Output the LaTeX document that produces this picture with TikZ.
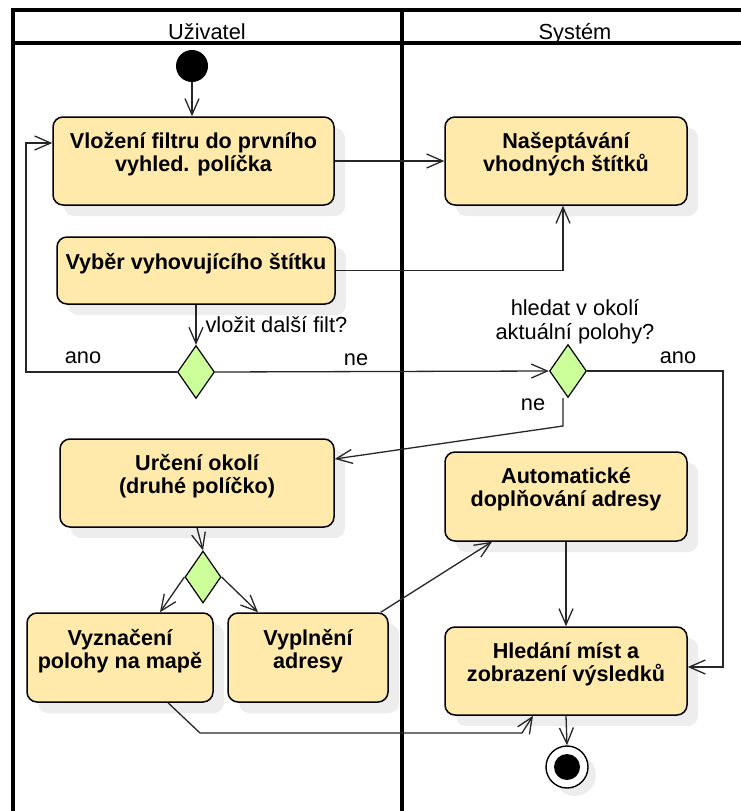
\documentclass[tikz,border=0pt]{standalone}
\usepackage{fontspec}
\setmainfont{Liberation Sans}
\usetikzlibrary{arrows.meta,shapes.geometric,shadows}
\definecolor{actfill}{RGB}{255,234,171}
\definecolor{decfill}{RGB}{204,255,153}
\begin{document}
\begin{tikzpicture}[x=1pt,y=-1pt,
  lane/.style={line width=3.2pt},
  act/.style={draw,line width=1.5pt,rounded corners=10pt,fill=actfill,align=center,
    font=\fontsize{21.6}{23}\selectfont\bfseries,text depth=18pt,
    drop shadow={shadow xshift=11pt,shadow yshift=-11pt,fill=black!7,opacity=1}},
  dec/.style={diamond,draw,line width=1.2pt,fill=decfill,inner sep=0pt,
    minimum width=37pt,minimum height=53pt},
  flow/.style={draw=black!85,line width=1.3pt,-{Straight Barb[length=16pt,width=14pt,line width=1.3pt]}},
  txt/.style={font=\fontsize{21.8}{24}\selectfont,anchor=base,align=center}]
  \useasboundingbox (0,0) rectangle (741,811);
  % swimlanes
  \draw[lane] (13,811) -- (13,10) -- (741,10);
  \draw[lane] (13,43) -- (741,43);
  \draw[lane] (402,10) -- (402,811);
  \node[txt] (uziv) at (207,39) {Uživatel};
  \node[txt] (sys) at (575,39) {Systém};
  % activities
  \foreach \n/\x/\y/\w/\h/\t in
    {vlozeni/193.5/161/281/88/{Vložení filtru do prvního\\vyhled. políčka},
     vyber/196/270.5/278/67/{Vyběr vyhovujícího štítku},
     nasept/566/161/242/88/{Našeptávání\\vhodných štítků},
     urceni/197/483/274/88/{Určení okolí\\(druhé políčko)},
     auto/566/496.5/242/89/{Automatické\\doplňování adresy},
     vyznaceni/120/657.5/186/89/{Vyznačení\\polohy na mapě},
     vyplneni/308/657.5/160/89/{Vyplnění\\adresy},
     hledani/566/671/242/88/{Hledání míst a\\zobrazení výsledků}}
    \node[act,minimum width=\w pt,minimum height=\h pt] (\n) at (\x,\y) {\t};
  \node[dec] (d1) at (196,372) {};
  \node[dec] (d2) at (568,371) {};
  \node[dec,minimum width=36pt,minimum height=52pt] (d3) at (203,577) {};
  \node[circle,fill=black,minimum size=32pt,inner sep=0pt] (start) at (192,66) {};
  \node[circle,draw,line width=1.4pt,fill=white,minimum size=42pt,inner sep=0pt,
    drop shadow={shadow xshift=8pt,shadow yshift=-8pt,fill=black!7,opacity=1}] (end) at (567,767) {};
  \fill (end.center) circle (13pt);
  % guards
  \node[txt,anchor=base west] (qfilt) at (202,332) {vložit další filt?};
  \node[txt] (ano1) at (83,363) {ano};
  \node[txt] (ne1) at (356,365) {ne};
  \node[txt,anchor=center] (qpoloha) at (575,322) {hledat v okolí\\aktuální polohy?};
  \node[txt] (ano2) at (678,363) {ano};
  \node[txt] (ne2) at (533,410) {ne};
  % flows
  \draw[flow] (start.south) -- (start.south |- vlozeni.north);
  \draw[flow] (vlozeni.east) -- (nasept.west);
  \draw[flow] (vyber.east) -| ([xshift=-3pt]nasept.south);
  \draw[flow] (vyber.south) -- (d1.north);
  \draw[flow] (d1.west) -- (26,372) |- ([yshift=18pt]vlozeni.west);
  \draw[flow] (d1.east) -- (d2.west);
  \draw[flow] (d2.east) -- (723,371) |- ([yshift=4pt]hledani.east);
  \draw[flow] ([xshift=-5pt]d2.south) -- (563,426) -- ([yshift=24pt]urceni.east);
  \draw[flow] (urceni.south) -- (d3.north);
  \draw[flow] (d3.west) -- ([xshift=40pt]vyznaceni.north);
  \draw[flow] (d3.east) -- ([xshift=-50pt]vyplneni.north);
  \draw[flow] ([xshift=-8pt]vyplneni.north east) -- ([xshift=-74pt]auto.south);
  \draw[flow] (auto.south) -- (hledani.north);
  \draw[flow] ([xshift=48pt]vyznaceni.south) -- (200,733) -- (522,733) -- ([xshift=-33pt]hledani.south);
  \draw[flow] (hledani.south) -- (end.north);
\end{tikzpicture}
\end{document}
